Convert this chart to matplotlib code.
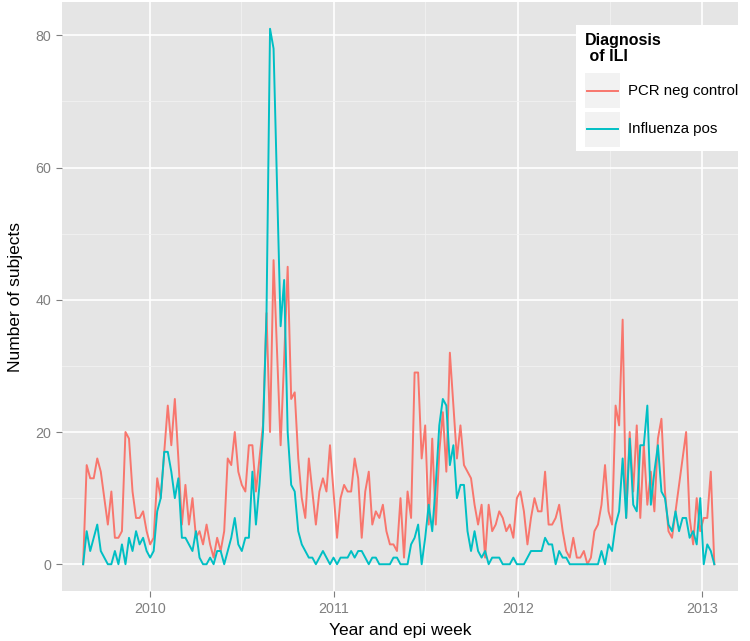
import matplotlib
matplotlib.use("Agg")
import matplotlib.pyplot as plt
import matplotlib.dates as mdates
from matplotlib.ticker import MultipleLocator
from matplotlib.patches import Rectangle
from matplotlib.lines import Line2D
import pandas as pd

plt.rcParams["font.family"] = ["Liberation Sans", "DejaVu Sans"]

# weekly counts, first week starting 2009-08-21
start_week = "2009-08-21"
pcr_neg = [0, 15, 13, 13, 16, 14, 10, 6, 11, 4, 4, 5, 20, 19, 11, 7, 7, 8, 5, 3,
           4, 13, 10, 17, 24, 18, 25, 16, 6, 12, 6, 10, 4, 5, 3, 6, 3, 1, 4, 2,
           5, 16, 15, 20, 14, 12, 11, 18, 18, 11, 16, 21, 38, 20, 46, 32, 18, 31, 45, 25,
           26, 16, 10, 7, 16, 11, 6, 11, 13, 11, 18, 11, 4, 10, 12, 11, 11, 16, 13, 4,
           11, 14, 6, 8, 7, 9, 5, 3, 3, 2, 10, 1, 11, 7, 29, 29, 16, 21, 6, 19,
           6, 17, 23, 14, 32, 24, 16, 21, 15, 14, 13, 9, 6, 9, 1, 9, 5, 6, 8, 7,
           5, 6, 4, 10, 11, 8, 3, 7, 10, 8, 8, 14, 6, 6, 7, 9, 5, 2, 1, 4,
           1, 1, 2, 0, 1, 5, 6, 9, 15, 8, 6, 24, 21, 37, 7, 20, 11, 21, 7, 18,
           9, 14, 8, 19, 22, 11, 5, 4, 8, 12, 16, 20, 7, 3, 10, 5, 7, 7, 14, 0]
flu_pos = [0, 5, 2, 4, 6, 2, 1, 0, 0, 2, 0, 3, 0, 4, 2, 5, 3, 4, 2, 1,
           2, 8, 10, 17, 17, 14, 10, 13, 4, 4, 3, 2, 5, 1, 0, 0, 1, 0, 2, 2,
           0, 2, 4, 7, 3, 2, 4, 4, 14, 6, 12, 20, 38, 81, 78, 57, 36, 43, 20, 12,
           11, 5, 3, 2, 1, 1, 0, 1, 2, 1, 0, 1, 0, 1, 1, 1, 2, 1, 2, 2,
           1, 0, 1, 1, 0, 0, 0, 0, 1, 1, 0, 0, 0, 3, 4, 6, 0, 4, 9, 5,
           12, 21, 25, 24, 15, 18, 10, 12, 12, 5, 2, 5, 2, 1, 2, 0, 1, 1, 1, 0,
           0, 0, 1, 0, 0, 0, 1, 2, 2, 2, 2, 4, 3, 3, 0, 2, 1, 1, 0, 0,
           0, 0, 0, 0, 0, 0, 0, 2, 0, 3, 2, 6, 8, 16, 7, 19, 9, 8, 18, 18,
           24, 9, 14, 18, 11, 10, 6, 5, 8, 5, 7, 7, 4, 5, 3, 10, 0, 3, 2, 0]
series_names = ["PCR neg control", "Influenza pos"]
series_colors = ["#F8766D", "#00BFC4"]
y_ticks = [0, 20, 40, 60, 80]

weeks = pd.date_range(start_week, periods=len(pcr_neg), freq="7D")

W, H = 750, 641
fig = plt.figure(figsize=(W / 100, H / 100), dpi=100)
ax = fig.add_axes([62 / W, 50 / H, 676 / W, 589 / H])
ax.set_facecolor("#E5E5E5")
for s in ax.spines.values():
    s.set_visible(False)

for vals, col in zip([pcr_neg, flu_pos], series_colors):
    ax.plot(weeks, vals, color=col, lw=1.4, zorder=3)

ax.set_xlim(pd.Timestamp("2009-07-10"), pd.Timestamp("2013-03-13"))
ax.set_ylim(-4.05, 85.05)
ax.set_yticks(y_ticks)
ax.yaxis.set_minor_locator(MultipleLocator(10))
ax.xaxis.set_major_locator(mdates.YearLocator())
ax.xaxis.set_minor_locator(mdates.MonthLocator(bymonth=7))
ax.xaxis.set_major_formatter(mdates.DateFormatter("%Y"))

ax.grid(which="major", color="white", lw=1.2)
ax.grid(which="minor", color="#F2F2F2", lw=0.6)
ax.set_axisbelow(True)
ax.tick_params(which="major", length=4, width=0.8, color="#7F7F7F",
               labelcolor="#7F7F7F", labelsize=10.3, pad=4)
ax.tick_params(which="minor", length=0)

ax.set_xlabel("Year and epi week", fontsize=12.5, labelpad=5)
ax.set_ylabel("Number of subjects", fontsize=12.5, labelpad=9)

# legend drawn like ggplot's: white box, grey key squares
def fx(p):
    return p / W

def fy(p):
    return 1 - p / H

fig.add_artist(Rectangle((fx(576), fy(151)), (738 - 576) / W, (151 - 25) / H,
                         transform=fig.transFigure, fc="white", ec="none", zorder=5))
fig.text(fx(585), fy(33), "Diagnosis\n of ILI", fontsize=11.5, fontweight="bold",
         va="top", ha="left", linespacing=1.05, zorder=6)
for i, (name, col) in enumerate(zip(series_names, series_colors)):
    top = 73 + i * 39
    fig.add_artist(Rectangle((fx(585), fy(top + 35)), 35 / W, 35 / H,
                             transform=fig.transFigure, fc="#F2F2F2", ec="none", zorder=6))
    fig.add_artist(Line2D([fx(587), fx(618)], [fy(top + 17.5)] * 2,
                          transform=fig.transFigure, color=col, lw=1.4, zorder=7))
    fig.text(fx(628), fy(top + 17.5), name, fontsize=10.8, va="center", ha="left", zorder=7)

fig.savefig("out.png", dpi=100)
